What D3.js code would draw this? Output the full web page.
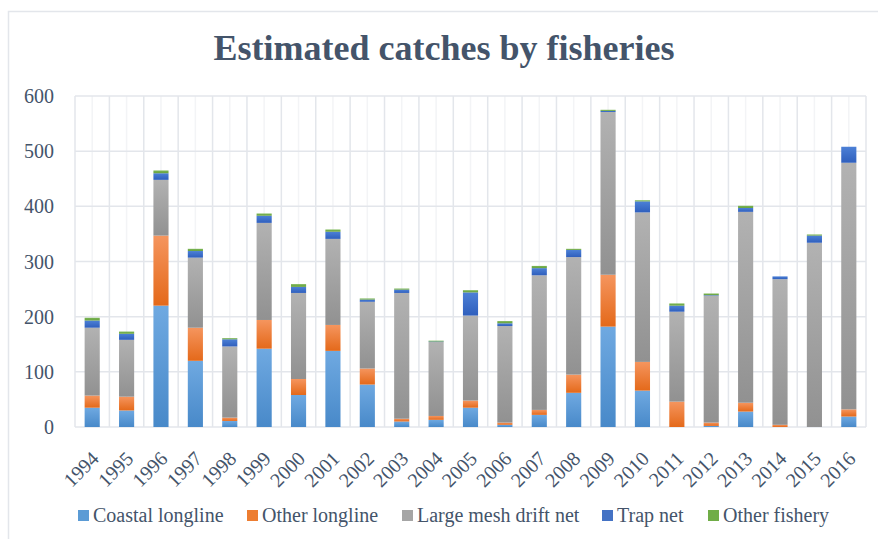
<!DOCTYPE html>
<html>
<head>
<meta charset="utf-8">
<script src="https://d3js.org/d3.v7.min.js"></script>
<style>
  body { margin: 0; background: #fff; }
  text { font-family: "Times New Roman", "Liberation Serif", serif; fill: #44546A; }
</style>
</head>
<body>
<div id="chart"></div>
<script>
// chart data
var years = ["1994","1995","1996","1997","1998","1999","2000","2001","2002","2003","2004",
             "2005","2006","2007","2008","2009","2010","2011","2012","2013","2014","2015","2016"];
var seriesNames = ["Coastal longline", "Other longline", "Large mesh drift net", "Trap net", "Other fishery"];
var coastalLongline = [35,30,220,120,11,142,58,138,77,10,13,35,4,22,62,182,66,0,2,28,0,0,19];
var otherLongline   = [22,25,127,60,6,52,29,47,29,5,7,13,4,9,33,94,52,46,6,16,4,0,13];
var largeMeshDrift  = [123,103,101,127,129,176,156,156,121,228,134,154,175,244,213,295,271,163,230,346,264,334,447];
var trapNet         = [13,11,12,12,13,13,11,13,4,6,1,42,5,13,13,2,20,11,1,7,5,13,29];
var otherFishery    = [5,4,5,4,2,4,5,4,2,2,1.5,4,4,4,2,2,2,4,3,4,0,2,0];
var yTicks = [0,100,200,300,400,500,600];

// colours: [top, bottom] of each bar gradient
var colours = [
  ["#6fa9e1", "#4889c9"],
  ["#f5955e", "#e4691a"],
  ["#b2b2b2", "#919191"],
  ["#4c80d6", "#2f5fbd"],
  ["#7bb655", "#68a23f"]
];
var swatch = ["#5B9BD5", "#ED7D31", "#A5A5A5", "#4472C4", "#70AD47"];

var W = 878, H = 539;
var margin = {top: 96, right: 12, bottom: 112, left: 75};

var table = years.map(function(y, i) {
  return {
    year: y,
    "Coastal longline": coastalLongline[i],
    "Other longline": otherLongline[i],
    "Large mesh drift net": largeMeshDrift[i],
    "Trap net": trapNet[i],
    "Other fishery": otherFishery[i]
  };
});

var svg = d3.select("#chart").append("svg")
  .attr("width", W)
  .attr("height", H);

// gradients for each series
var defs = svg.append("defs");
colours.forEach(function(c, i) {
  var g = defs.append("linearGradient")
    .attr("id", "grad" + i)
    .attr("x1", 0).attr("y1", 0).attr("x2", 0).attr("y2", 1);
  g.append("stop").attr("offset", "0%").attr("stop-color", c[0]);
  g.append("stop").attr("offset", "100%").attr("stop-color", c[1]);
});

// chart border
svg.append("rect")
  .attr("x", 8.5).attr("y", 11.5)
  .attr("width", W + 10).attr("height", H + 10)
  .attr("fill", "none")
  .attr("stroke", "#e3e6eb")
  .attr("stroke-width", 1.5);

// title
svg.append("text")
  .attr("x", 444)
  .attr("y", 60)
  .attr("text-anchor", "middle")
  .style("font-size", "36px")
  .style("font-weight", "bold")
  .text("Estimated catches by fisheries");

var x = d3.scaleBand()
  .domain(years)
  .range([margin.left, W - margin.right])
  .paddingInner(0.56)
  .paddingOuter(0.28);

var y = d3.scaleLinear()
  .domain([0, 600])
  .range([H - margin.bottom, margin.top]);

var step = x.step();

// minor vertical gridlines at category centres
svg.append("g").selectAll("line.minor")
  .data(years)
  .enter().append("line")
  .attr("x1", function(d) { return x(d) + x.bandwidth() / 2; })
  .attr("x2", function(d) { return x(d) + x.bandwidth() / 2; })
  .attr("y1", y(600)).attr("y2", y(0))
  .attr("stroke", "#f3f4f6")
  .attr("stroke-width", 1.5);

// major vertical gridlines at category edges
var edges = years.map(function(d) { return x(d) - (step - x.bandwidth()) / 2; });
edges.push(W - margin.right);
svg.append("g").selectAll("line.major")
  .data(edges)
  .enter().append("line")
  .attr("x1", function(d) { return d; })
  .attr("x2", function(d) { return d; })
  .attr("y1", y(600)).attr("y2", y(0))
  .attr("stroke", "#e3e6eb")
  .attr("stroke-width", 1.5);

// horizontal gridlines
svg.append("g").selectAll("line.h")
  .data(yTicks)
  .enter().append("line")
  .attr("x1", margin.left).attr("x2", W - margin.right)
  .attr("y1", function(d) { return y(d); })
  .attr("y2", function(d) { return y(d); })
  .attr("stroke", "#e3e6eb")
  .attr("stroke-width", 1.5);

// stacked bars
var stack = d3.stack().keys(seriesNames);
var layers = stack(table);

svg.append("g").selectAll("g.layer")
  .data(layers)
  .enter().append("g")
  .attr("fill", function(d, i) { return "url(#grad" + i + ")"; })
  .selectAll("rect")
  .data(function(d) { return d; })
  .enter().append("rect")
  .attr("x", function(d) { return x(d.data.year); })
  .attr("width", x.bandwidth())
  .attr("y", function(d) { return y(d[1]); })
  .attr("height", function(d) { return Math.max(0, y(d[0]) - y(d[1])); });

// y axis labels
svg.append("g").selectAll("text.ytick")
  .data(yTicks)
  .enter().append("text")
  .attr("x", 54)
  .attr("y", function(d) { return y(d); })
  .attr("dy", "0.35em")
  .attr("text-anchor", "end")
  .style("font-size", "20px")
  .text(function(d) { return d; });

// x axis labels, rotated
svg.append("g").selectAll("text.xtick")
  .data(years)
  .enter().append("text")
  .attr("text-anchor", "end")
  .attr("transform", function(d) {
    return "translate(" + (x(d) + x.bandwidth() / 2 - 2) + "," + (y(0) + 23) + ") rotate(-45)";
  })
  .attr("dy", "0.7em")
  .style("font-size", "20px")
  .text(function(d) { return d; });

// legend
var legendX = [78, 247, 402, 602, 708];
var legend = svg.append("g").selectAll("g.leg")
  .data(seriesNames)
  .enter().append("g")
  .attr("transform", function(d, i) { return "translate(" + legendX[i] + ",510)"; });
legend.append("rect")
  .attr("width", 11).attr("height", 11)
  .attr("fill", function(d, i) { return swatch[i]; });
legend.append("text")
  .attr("x", 15)
  .attr("y", 12)
  .style("font-size", "20px")
  .text(function(d) { return d; });
</script>
</body>
</html>
